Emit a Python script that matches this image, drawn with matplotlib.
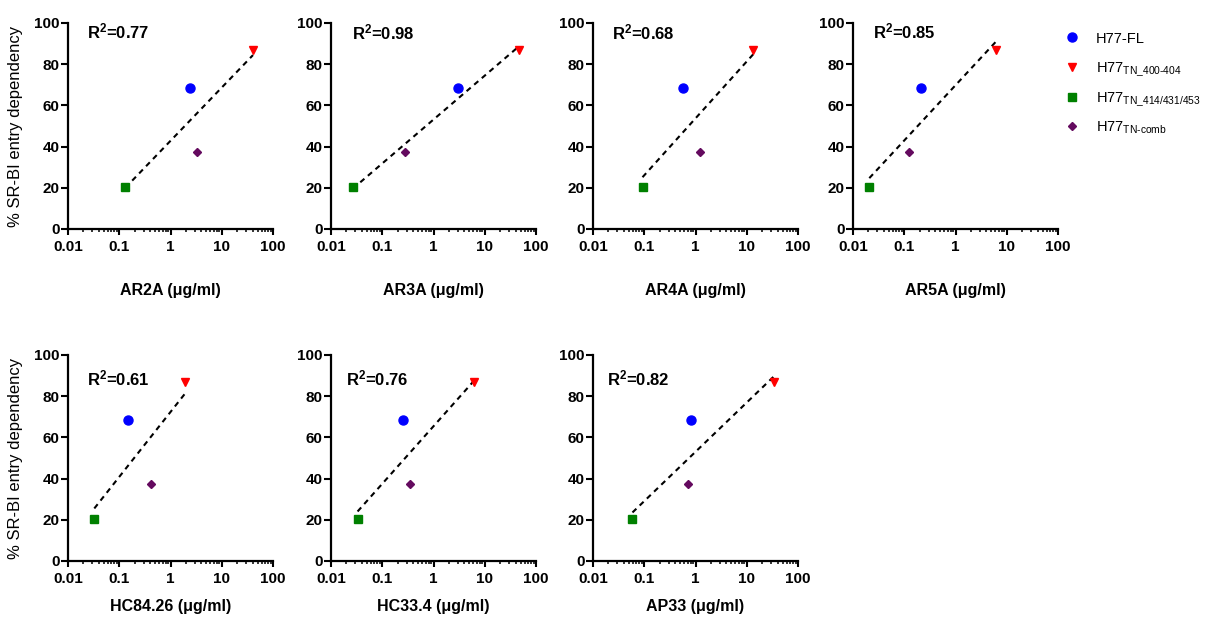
import numpy as np
import matplotlib.pyplot as plt
from matplotlib.lines import Line2D
from matplotlib.ticker import NullFormatter

plt.rcParams['font.family'] = ['Liberation Sans', 'DejaVu Sans']
plt.rcParams['mathtext.fontset'] = 'custom'
plt.rcParams['mathtext.rm'] = 'Liberation Sans'
plt.rcParams['mathtext.bf'] = 'Liberation Sans:bold'
plt.rcParams['mathtext.default'] = 'regular'

# % SR-BI entry dependency of each virus (same in every panel)
dep_fl = 68.5
dep_400 = 86.8
dep_414 = 20.2
dep_comb = 37.6

antibodies = ['AR2A', 'AR3A', 'AR4A', 'AR5A', 'HC84.26', 'HC33.4', 'AP33']
r2_labels = ['0.77', '0.98', '0.68', '0.85', '0.61', '0.76', '0.82']

# antibody concentration (ug/ml) per virus, one value per antibody
ic_fl = [2.37, 3.05, 0.56, 0.21, 0.150, 0.251, 0.80]
ic_400 = [40.7, 47.3, 13.5, 6.22, 1.89, 6.22, 33.7]
ic_414 = [0.131, 0.0265, 0.0925, 0.0208, 0.0326, 0.033, 0.0589]
ic_comb = [3.29, 0.278, 1.24, 0.1265, 0.410, 0.354, 0.700]

legend_labels = ['H77-FL',
                 r'H77$_{TN\_400\text{-}404}$',
                 r'H77$_{TN\_414/431/453}$',
                 r'H77$_{TN\text{-}comb}$']
colors = ['#0000ff', '#ff0000', '#008000', '#640a5f']
markers = ['o', 'v', 's', 'D']
msizes = [6.5, 5.6, 6.0, 4.2]

W, H = 1207, 621
fig = plt.figure(figsize=(W / 100, H / 100), dpi=100)

lefts = [68, 331, 593, 853, 68, 331, 593]
tops = [23, 23, 23, 23, 355, 355, 355]
aw, ah = 205, 206
r2_pos = [(0.094, 0.927), (0.10, 0.922), (0.094, 0.92), (0.096, 0.925),
          (0.094, 0.854), (0.073, 0.854), (0.07, 0.854)]

for i, name in enumerate(antibodies):
    ax = fig.add_axes([lefts[i] / W, 1 - (tops[i] + ah) / H, aw / W, ah / H])
    xs = np.array([ic_fl[i], ic_400[i], ic_414[i], ic_comb[i]])
    ys = np.array([dep_fl, dep_400, dep_414, dep_comb])

    # linear fit on log10 concentration
    slope, icpt = np.polyfit(np.log10(xs), ys, 1)
    xl = np.array([xs.min(), xs.max()])
    ax.plot(xl, slope * np.log10(xl) + icpt, color='black', lw=1.5,
            ls=(0, (2.6, 2.2)), zorder=2)

    for x, y, c, m, s in zip(xs, ys, colors, markers, msizes):
        ax.plot([x], [y], marker=m, color=c, ms=s, ls='none', zorder=3)

    ax.set_xscale('log')
    ax.set_xlim(0.01, 100)
    ax.set_ylim(0, 100)
    ax.set_xticks([0.01, 0.1, 1, 10, 100], ['0.01', '0.1', '1', '10', '100'])
    ax.xaxis.set_minor_formatter(NullFormatter())
    ax.set_yticks([0, 20, 40, 60, 80, 100])

    for side in ['top', 'right']:
        ax.spines[side].set_visible(False)
    for side in ['left', 'bottom']:
        ax.spines[side].set_linewidth(1.6)

    ax.tick_params(which='major', direction='out', width=1.5, labelsize=11)
    ax.tick_params(axis='x', which='major', length=4, pad=4)
    ax.tick_params(axis='y', which='major', length=5, pad=1)
    ax.tick_params(which='minor', direction='out', length=2.5, width=1.1)
    for lab in ax.get_xticklabels() + ax.get_yticklabels():
        lab.set_fontweight('bold')

    ax.set_xlabel(name + ' (\u03bcg/ml)', fontsize=11.5, fontweight='bold',
                  labelpad=21 if i < 4 else 9)
    if i in (0, 4):
        ax.set_ylabel('% SR-BI entry dependency', fontsize=12, labelpad=8)

    ax.text(r2_pos[i][0], r2_pos[i][1], r'$\mathbf{R^2}$=' + r2_labels[i],
            transform=ax.transAxes, fontsize=12, fontweight='bold',
            ha='left', va='baseline')

# legend on the right
row_y = [36.7, 66.7, 96.7, 126.0]
for k in range(4):
    yf = 1 - row_y[k] / H
    fig.add_artist(Line2D([1072 / W], [yf], transform=fig.transFigure,
                          marker=markers[k], color=colors[k], ms=msizes[k],
                          ls='none'))
    fig.text(1095.5 / W, 1 - (row_y[k] + 6) / H, legend_labels[k],
             fontsize=10.5, ha='left', va='baseline')

fig.savefig('out.png', dpi=100)
